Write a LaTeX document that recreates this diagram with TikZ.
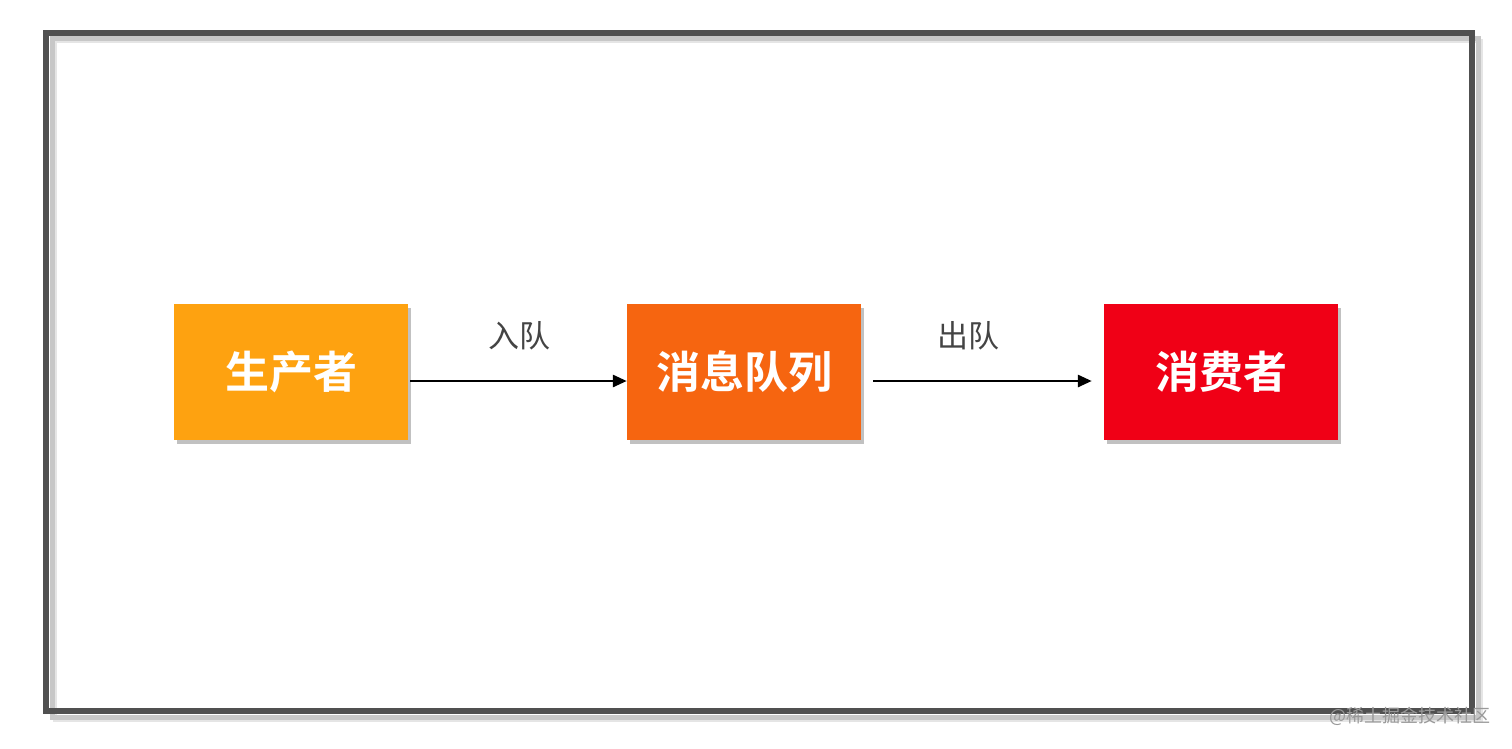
\documentclass[tikz,border=0pt]{standalone}
\usepackage{fontspec}
\newfontfamily\cjk{Noto Sans CJK SC}
\newfontfamily\cjkbold{Noto Sans CJK SC Bold}
\usetikzlibrary{arrows.meta,shadows}
\definecolor{frameC}{HTML}{505050}
\definecolor{prodC}{HTML}{FEA210}
\definecolor{queueC}{HTML}{F66510}
\definecolor{consC}{HTML}{F00016}
\definecolor{labelC}{HTML}{444444}
\tikzset{
  box/.style={minimum width=234pt, minimum height=136pt, inner sep=0pt,
    text=white, font=\cjkbold\fontsize{44}{48}\selectfont,
    drop shadow={shadow xshift=3pt, shadow yshift=-4pt, opacity=0.4, fill=black!60}},
  flow/.style={line width=2.8pt, -{Triangle[length=14pt,width=12pt]}},
  lbl/.style={text=labelC, font=\cjk\fontsize{31}{34}\selectfont, inner sep=0pt}
}
\begin{document}
\begin{tikzpicture}[x=1pt,y=-1pt]
\useasboundingbox (0,0) rectangle (1512,748);
\fill[white] (0,0) rectangle (1512,748);
% frame shadows
\draw[line width=4pt, black!10] (55,41) rectangle (1481,720);
\draw[line width=5pt, black!22] (52,38) rectangle (1478,717);
\draw[line width=6pt, frameC] (46,33) rectangle (1472,711);
% boxes
\node[box, fill=prodC] (p) at (291,372) {生产者};
\node[box, fill=queueC] (m) at (744,372) {消息队列};
\node[box, fill=consC] (c) at (1221,372) {消费者};
% connectors
\draw[flow, shorten <=2pt] ([yshift=-9pt]p.east) -- ([yshift=-9pt]m.west);
\draw[flow, shorten <=12pt, shorten >=12pt] ([yshift=-9pt]m.east) -- ([yshift=-9pt]c.west);
% labels
\node[lbl] (l1) at (519,336) {入队};
\node[lbl] (l2) at (968,336) {出队};
% watermark
\node[text=black!40, font=\cjk\fontsize{18}{20}\selectfont, inner sep=0pt, anchor=east] (wm) at (1491,716) {@稀土掘金技术社区};
\end{tikzpicture}
\end{document}
